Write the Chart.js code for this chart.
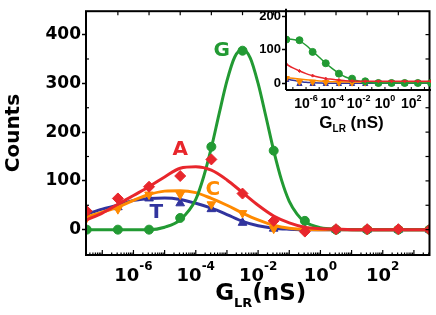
<!DOCTYPE html>
<html>
<head>
<meta charset="utf-8">
<title>Counts vs G_LR</title>
<script src="https://cdn.jsdelivr.net/npm/chart.js@4.4.0/dist/chart.umd.min.js"></script>
<style>
  html, body { margin: 0; padding: 0; background: #fff; }
  #wrap { position: relative; width: 436px; height: 315px; }
  #main { position: absolute; left: 0; top: 0; }
  #inset { position: absolute; left: 240px; top: 0; }
</style>
</head>
<body>
<div id="wrap">
  <canvas id="main" width="436" height="315"></canvas>
  <canvas id="inset" width="196" height="135"></canvas>
</div>
<script>
/* histogram of G_LR, main panel + inset. x values are log10(G_LR / nS) */

// measured points, one per decade
var markerExp = [-7.5, -6.5, -5.5, -4.5, -3.5, -2.5, -1.5, -0.5, 0.5, 1.5, 2.5, 3.5];
var pointsA = [38, 64, 88, 110, 144, 74, 18, -4, 1, 1, 1, 0];
var pointsC = [24, 42, 72, 72, 52, 34, 2, 0, 0, 0, 0, 0];
var pointsG = [0, 0, 0, 24, 170, 367, 162, 18, 0, 0, 0, 0];
var pointsT = [30, 46, 64, 54, 42, 14, 2, 0, 0, 0, 0, 0];

// fitted curves, read every half decade
var fitExp = [-7.5, -7, -6.5, -6, -5.5, -5, -4.5, -4, -3.5, -3, -2.5, -2, -1.5, -1, -0.5, 0, 0.5, 1, 1.5, 2, 2.5, 3, 3.5];
var fitA = [20, 34, 52, 70, 88, 108, 126, 129, 122, 102, 76, 50, 28, 14, 5, 2, 1, 0, 0, 0, 0, 0, 0];
var fitC = [26, 36, 46, 60, 72, 79, 80, 76, 64, 50, 34, 20, 9, 3, 1, 0, 0, 0, 0, 0, 0, 0, 0];
var fitT = [32, 42, 50, 60, 64, 65, 62, 54, 44, 31, 17, 8, 3, 1, 0, 0, 0, 0, 0, 0, 0, 0, 0];
// G is narrow, so it is read more finely round the peak
var fitGExp = [-7.5, -6.5, -5.5, -5, -4.5, -4, -3.75, -3.5, -3.25, -3, -2.75, -2.5, -2.25, -2, -1.75, -1.5, -1.25, -1, -0.75, -0.5, 0, 0.5, 1.5, 2.5, 3.5];
var fitG = [0, 0, 0, 5, 20, 62, 108, 168, 238, 305, 354, 370, 352, 300, 232, 162, 102, 58, 32, 16, 4, 1, 0, 0, 0];

// inset
var insetPtsA = [57, 37, 23, 14, 10, 7, 6, 6, 6, 6, 6, 6];
var insetPtsC = [15, 5, 4, 3, 2, 2, 2, 2, 2, 2, 2, 2];
var insetPtsG = [131, 129, 94, 60, 29, 14, 6, 1, 1, 1, 1, 1];
var insetPtsT = [10, -2, -2, -2, -2, -2, -2, -2, -2, -2, -2, -2];
var insetFitA = [57, 46, 37, 29, 23, 18, 14, 12, 10, 8, 7, 6, 6, 6, 6, 6, 6, 6, 6, 6, 6, 6, 6];
var insetFitC = [17, 15, 13, 11, 9, 7, 6, 5, 5, 4, 4, 4, 4, 4, 4, 4, 4, 4, 4, 4, 4, 4, 4];
var insetFitG = [133, 131, 127, 114, 96, 78, 60, 44, 30, 19, 12, 7, 4, 2, 1, 1, 1, 1, 1, 1, 1, 1, 1];
var insetFitT = [14, 9, 6, 3, 2, 1, 0, 0, 0, 0, 0, 0, 0, 0, 0, 0, 0, 0, 0, 0, 0, 0, 0];

var seriesNames = ["A", "C", "G", "T"];
var xTickExp = [-6, -4, -2, 0, 2];
var yTicks = [0, 100, 200, 300, 400];
var insetYTicks = [0, 100, 200];

(function () {
  "use strict";

  var RED = "#e8262c", ORANGE = "#ff8a00", GREEN = "#229a33", BLUE = "#31349e";
  var colors = { A: RED, C: ORANGE, G: GREEN, T: BLUE };
  // where the series letters sit, in data units (log10 x, counts)
  var letterPos = { A: [-4.5, 164], C: [-3.45, 82], G: [-3.17, 366], T: [-5.27, 34] };

  function pts(exps, vals) {
    return exps.map(function (e, i) { return { x: Math.pow(10, e), y: vals[i] }; });
  }
  function seg(ctx, x1, y1, x2, y2) {
    ctx.beginPath(); ctx.moveTo(x1, y1); ctx.lineTo(x2, y2); ctx.stroke();
  }
  function fitSet(data, color, width) {
    return { data: data, borderColor: color, borderWidth: width, pointRadius: 0,
             fill: false, cubicInterpolationMode: "monotone" };
  }
  function markSet(data, color, style, r, rot) {
    return { data: data, showLine: false, pointStyle: style, pointRadius: r,
             pointRotation: rot || 0, pointBackgroundColor: color,
             pointBorderColor: color, pointBorderWidth: 1 };
  }
  function drawPow(ctx, px, baseY, expY, baseFont, expFont, exp) {
    ctx.font = baseFont; var wb = ctx.measureText("10").width;
    ctx.font = expFont; var we = ctx.measureText(exp).width;
    var x0 = px - (wb + we) / 2;
    ctx.font = baseFont; ctx.fillText("10", x0, baseY);
    ctx.font = expFont; ctx.fillText(exp, x0 + wb, expY);
  }
  function drawGlr(ctx, cx, baseY, subY, big, small, tail) {
    ctx.font = big; var w1 = ctx.measureText("G").width, w3 = ctx.measureText(tail).width;
    ctx.font = small; var w2 = ctx.measureText("LR").width;
    var x0 = cx - (w1 + w2 + w3) / 2;
    ctx.font = big; ctx.fillText("G", x0, baseY);
    ctx.font = small; ctx.fillText("LR", x0 + w1, subY);
    ctx.font = big; ctx.fillText(tail, x0 + w1 + w2, baseY);
  }

  /* ---------- main panel ---------- */
  var mainFrame = {
    id: "mainFrame",
    afterDraw: function (chart) {
      var ctx = chart.ctx, a = chart.chartArea, xs = chart.scales.x, ys = chart.scales.y;
      ctx.save();
      ctx.strokeStyle = "#000";
      ctx.fillStyle = "#000";
      ctx.lineWidth = 2;
      ctx.strokeRect(a.left, a.top, a.right - a.left, a.bottom - a.top);

      ctx.lineWidth = 1.2;
      // bottom log ticks, inward
      for (var k = -8; k <= 3; k++) {
        for (var m = 1; m <= 9; m++) {
          var v = m * Math.pow(10, k);
          if (v < xs.min || v > xs.max) continue;
          var px = xs.getPixelForValue(v);
          seg(ctx, px, a.bottom, px, a.bottom - (m === 1 ? 5 : 2.5));
        }
      }
      // top ticks at the measured points
      markerExp.slice(1, -1).forEach(function (e) {
        var px = xs.getPixelForValue(Math.pow(10, e));
        seg(ctx, px, a.top, px, a.top + 4);
      });
      // left minor ticks inward, right ticks inward every 50
      for (var y = 0; y <= 400; y += 50) {
        var py = ys.getPixelForValue(y);
        if (y % 100) seg(ctx, a.left, py, a.left + 3, py);
        seg(ctx, a.right, py, a.right - 4, py);
      }

      // x tick labels 10^n
      ctx.textAlign = "left";
      ctx.textBaseline = "alphabetic";
      xTickExp.forEach(function (e) {
        var px = xs.getPixelForValue(Math.pow(10, e));
        drawPow(ctx, px, a.bottom + 26, a.bottom + 15,
          'bold 18px "DejaVu Sans"', 'bold 12px "DejaVu Sans"', String(e));
      });
      // x title
      drawGlr(ctx, (a.left + a.right) / 2 + 3, a.bottom + 45, a.bottom + 52,
        'bold 23px "DejaVu Sans"', 'bold 13px "DejaVu Sans"', "(nS)");

      // series letters
      ctx.font = 'bold 20px "DejaVu Sans"';
      ctx.textAlign = "center";
      ctx.textBaseline = "middle";
      seriesNames.forEach(function (n) {
        ctx.fillStyle = colors[n];
        ctx.fillText(n, xs.getPixelForValue(Math.pow(10, letterPos[n][0])), ys.getPixelForValue(letterPos[n][1]));
      });
      ctx.restore();
    }
  };

  new Chart(document.getElementById("main").getContext("2d"), {
    type: "line",
    data: {
      datasets: [
        markSet(pts(markerExp, pointsA), RED, "rectRot", 5.5),
        fitSet(pts(fitExp, fitA), RED, 3),
        markSet(pts(markerExp, pointsG), GREEN, "circle", 4.5),
        fitSet(pts(fitGExp, fitG), GREEN, 3),
        markSet(pts(markerExp, pointsC), ORANGE, "triangle", 5, 180),
        fitSet(pts(fitExp, fitC), ORANGE, 3),
        markSet(pts(markerExp, pointsT), BLUE, "triangle", 5),
        fitSet(pts(fitExp, fitT), BLUE, 3)
      ]
    },
    options: {
      responsive: false,
      animation: false,
      layout: { padding: { top: 5, right: 5, left: 0, bottom: 0 } },
      plugins: { legend: { display: false }, tooltip: { enabled: false } },
      scales: {
        x: {
          type: "logarithmic",
          min: Math.pow(10, -7.5), max: Math.pow(10, 3.5),
          ticks: { display: false },
          grid: { display: false },
          border: { display: false },
          afterFit: function (s) { s.height = 60; }
        },
        y: {
          min: -52, max: 448,
          afterBuildTicks: function (s) { s.ticks = yTicks.map(function (v) { return { value: v }; }); },
          ticks: { color: "#000", padding: 1, font: { family: "DejaVu Sans", weight: "bold", size: 17 } },
          grid: { drawOnChartArea: false, drawTicks: true, tickLength: 4, tickWidth: 1.5, tickColor: "#000", color: "#000" },
          border: { display: false },
          title: { display: true, text: "Counts", color: "#000", padding: { top: 2, bottom: 0 },
                   font: { family: "DejaVu Sans", weight: "bold", size: 20 } },
          afterFit: function (s) { s.width = 86; }
        }
      }
    },
    plugins: [mainFrame]
  });

  /* ---------- inset ---------- */
  var insetFrame = {
    id: "insetFrame",
    afterDraw: function (chart) {
      var ctx = chart.ctx, a = chart.chartArea, xs = chart.scales.x;
      ctx.save();
      ctx.strokeStyle = "#000";
      ctx.fillStyle = "#000";
      ctx.lineWidth = 2;
      seg(ctx, a.left, a.top, a.left, a.bottom);
      seg(ctx, a.left, a.bottom, a.right, a.bottom);
      ctx.lineWidth = 1;
      for (var k = -7; k <= 3; k++) {
        var px = xs.getPixelForValue(Math.pow(10, k));
        seg(ctx, px, a.bottom, px, a.bottom - 3);
      }
      ctx.textAlign = "left";
      ctx.textBaseline = "alphabetic";
      xTickExp.forEach(function (e) {
        var px = xs.getPixelForValue(Math.pow(10, e));
        drawPow(ctx, px, a.bottom + 18, a.bottom + 11,
          'bold 14px "Liberation Sans"', 'bold 9px "Liberation Sans"', String(e));
      });
      drawGlr(ctx, (a.left + a.right) / 2 - 7, a.bottom + 38, a.bottom + 42,
        'bold 17px "Liberation Sans"', 'bold 10px "Liberation Sans"', " (nS)");
      ctx.restore();
    }
  };

  new Chart(document.getElementById("inset").getContext("2d"), {
    type: "line",
    data: {
      datasets: [
        markSet(pts(markerExp, insetPtsA), RED, "rectRot", 1.5),
        fitSet(pts(fitExp, insetFitA), RED, 1.5),
        markSet(pts(markerExp, insetPtsG), GREEN, "circle", 3.5),
        fitSet(pts(fitExp, insetFitG), GREEN, 1.5),
        markSet(pts(markerExp, insetPtsC), ORANGE, "triangle", 3.5, 180),
        fitSet(pts(fitExp, insetFitC), ORANGE, 1.5),
        markSet(pts(markerExp, insetPtsT), BLUE, "triangle", 3),
        fitSet(pts(fitExp, insetFitT), BLUE, 1.5)
      ]
    },
    options: {
      responsive: false,
      animation: false,
      layout: { padding: { top: 5, right: 5, left: 0, bottom: 0 } },
      plugins: { legend: { display: false }, tooltip: { enabled: false } },
      scales: {
        x: {
          type: "logarithmic",
          min: Math.pow(10, -7.5), max: Math.pow(10, 3.5),
          ticks: { display: false },
          grid: { display: false },
          border: { display: false },
          afterFit: function (s) { s.height = 45; }
        },
        y: {
          min: -20, max: 223,
          afterBuildTicks: function (s) { s.ticks = insetYTicks.map(function (v) { return { value: v }; }); },
          ticks: { color: "#000", padding: 1, font: { family: "Liberation Sans", weight: "bold", size: 13 } },
          grid: { drawOnChartArea: false, drawTicks: true, tickLength: 4, tickWidth: 1.5, tickColor: "#000", color: "#000" },
          border: { display: false },
          afterFit: function (s) { s.width = 46; }
        }
      }
    },
    plugins: [insetFrame]
  });
})();
</script>
</body>
</html>
